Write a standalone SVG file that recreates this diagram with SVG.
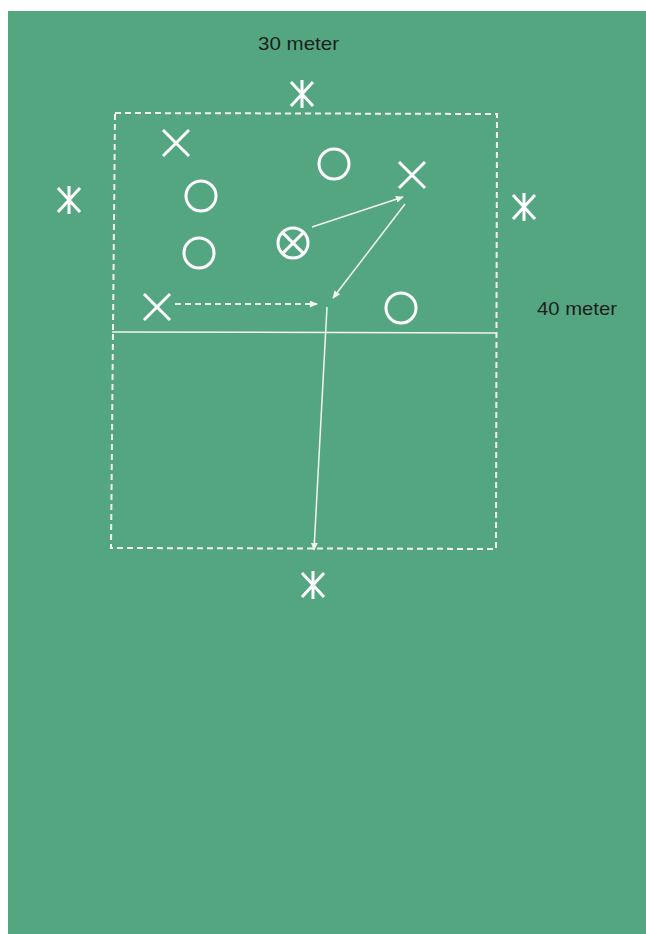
<svg xmlns="http://www.w3.org/2000/svg" width="646" height="934" viewBox="0 0 646 934">
<defs>
<style>
.sym{stroke:#fff;stroke-width:3;fill:none;stroke-linecap:butt}
.ln{stroke:#f4f4ee;stroke-width:1.5;fill:none}
.dash{stroke:#f4f4ee;stroke-width:2;fill:none;stroke-dasharray:6 4}
.lbl{font-family:"Liberation Sans",Arial,sans-serif;font-size:19px;fill:#1e1e1e}
</style>
<marker id="ah" viewBox="0 0 10 10" refX="9" refY="5" markerWidth="8" markerHeight="7" orient="auto" markerUnits="userSpaceOnUse" preserveAspectRatio="none">
<path d="M0,0 L10,5 L0,10 z" fill="#f4f4ee"/>
</marker>
<g id="ast"><path class="sym" d="M0,-14 V14 M-11,-12 L11,12 M11,-12 L-11,12"/></g>
<g id="xx"><path class="sym" d="M-13,-13 L13,13 M13,-13 L-13,13"/></g>
</defs>
<rect width="646" height="934" fill="#fff"/>
<rect x="8" y="11" width="638" height="923" fill="#54a680"/>
<g id="field">
<path class="dash" d="M115,113 L497,114 L496,549 L111,548 Z"/>
<path class="ln" d="M112,332 L497,333"/>
</g>
<g id="label-30"><text class="lbl" x="258" y="50" textLength="81" lengthAdjust="spacingAndGlyphs">30 meter</text></g>
<g id="label-40"><text class="lbl" x="537" y="315" textLength="80" lengthAdjust="spacingAndGlyphs">40 meter</text></g>
<g id="ast-top"><use href="#ast" x="302" y="94"/></g>
<g id="ast-left"><use href="#ast" x="69" y="200"/></g>
<g id="ast-right"><use href="#ast" x="524" y="207"/></g>
<g id="ast-bottom"><use href="#ast" x="313" y="585"/></g>
<g id="x1"><use href="#xx" x="176" y="143"/></g>
<g id="x2"><use href="#xx" x="412" y="175"/></g>
<g id="x3"><use href="#xx" x="157" y="307"/></g>
<g id="o1"><circle class="sym" cx="334" cy="164" r="15"/></g>
<g id="o2"><circle class="sym" cx="201" cy="196" r="15"/></g>
<g id="o3"><circle class="sym" cx="199" cy="253" r="15"/></g>
<g id="o4"><circle class="sym" cx="401" cy="308" r="15"/></g>
<g id="ball"><circle class="sym" cx="293" cy="243" r="15"/><path class="sym" d="M282.4,232.4 L303.6,253.6 M303.6,232.4 L282.4,253.6"/></g>
<g id="connectors">
<path class="ln" d="M312,227 L403,197" marker-end="url(#ah)"/>
<path class="ln" d="M405,204 L333,298" marker-end="url(#ah)"/>
<path class="dash" d="M175,304 L317,304" marker-end="url(#ah)"/>
<path class="ln" d="M327,307 L314,550" marker-end="url(#ah)"/>
</g>
</svg>
